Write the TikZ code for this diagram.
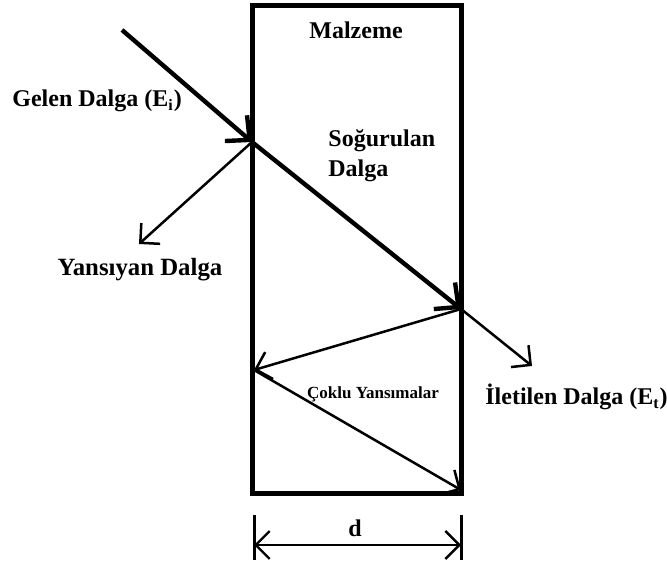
\documentclass[tikz,border=0pt]{standalone}
\usepackage{fontspec}
\setmainfont{Liberation Serif}
\usepackage{tikz}
\usetikzlibrary{arrows.meta,positioning,calc}

\tikzset{
  wave/.style={line width=2.2pt, -{Straight Barb[length=9pt,width=17pt]}},
  thinwave/.style={line width=1.25pt, -{Straight Barb[length=7pt,width=14pt]}},
  lbl/.style={font=\bfseries\fontsize{12}{15}\selectfont, inner sep=0pt},
  smalllbl/.style={font=\bfseries\fontsize{8.5}{10}\selectfont, inner sep=0pt}
}

\begin{document}
\begin{tikzpicture}[x=0.5pt, y=-0.5pt]
    \useasboundingbox (0,0) rectangle (667,565);
    % material slab
    \draw[line width=2.5pt] (252,6) rectangle (461,493);
    \node[lbl] (mat) at (356,30) {Malzeme};
    % points on the slab
    \coordinate (src) at (122,30);
    \coordinate (hitA) at (252,142);
    \coordinate (hitB) at (461,309);
    \coordinate (refl) at (139,244);
    \coordinate (trans) at (532,366);
    \coordinate (bounce) at (254,370);
    \coordinate (floor) at (461,490);
    % incident and absorbed wave
    \draw[wave] (src) -- (hitA);
    \draw[wave] (hitA) -- (hitB);
    % reflected and transmitted wave
    \draw[thinwave] (hitA) -- (refl);
    \draw[thinwave] (hitB) -- (trans);
    % multiple reflections
    \draw[thinwave] (hitB) -- (bounce);
    \draw[thinwave] (bounce) -- (floor);
    % labels
    \node[lbl, anchor=west] (inc) at (12,101) {Gelen Dalga (E\textsubscript{i})};
    \node[lbl, anchor=west, align=left] (abs) at (328,156) {Soğurulan\\Dalga};
    \node[lbl, font=\bfseries\fontsize{12.4}{15}\selectfont] (ref) at (140,270) {Yansıyan Dalga};
    \node[smalllbl] (multi) at (373,394) {Çoklu Yansımalar};
    \node[lbl, anchor=west] (out) at (485,397) {İletilen Dalga (E\textsubscript{t})};
    % thickness d
    \coordinate (dl) at (254,545);
    \coordinate (dr) at (461,545);
    \draw[line width=1.5pt] ($(dl)+(0,-30)$) -- ($(dl)+(0,15)$);
    \draw[line width=1.5pt] ($(dr)+(0,-30)$) -- ($(dr)+(0,15)$);
    \draw[line width=1.2pt, {Straight Barb[length=7pt,width=14pt]}-{Straight Barb[length=7pt,width=14pt]}] (dl) -- (dr);
    \node[lbl] (d) at (355,528) {d};
\end{tikzpicture}
\end{document}
